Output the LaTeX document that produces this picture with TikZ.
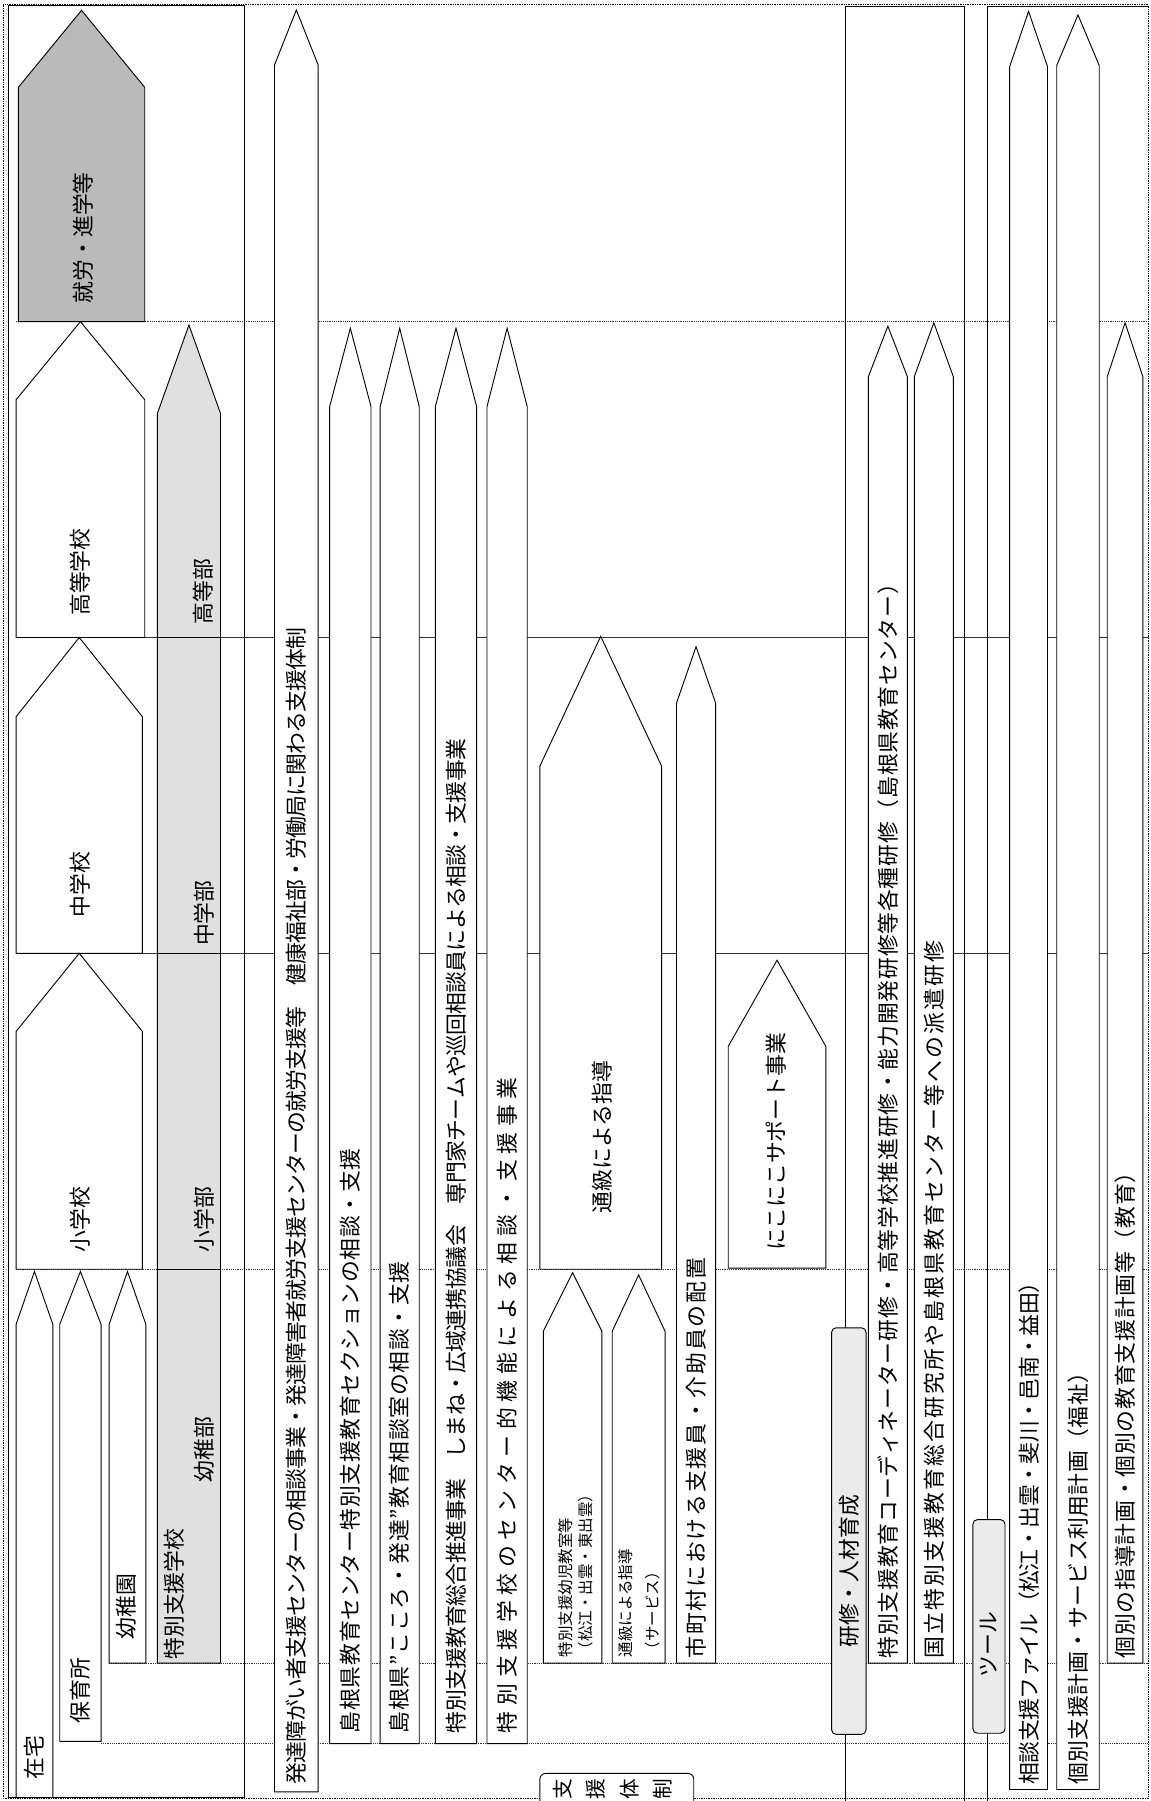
\documentclass[tikz,border=0pt]{standalone}
\usepackage{fontspec}
\setmainfont{Noto Sans CJK JP}
\newcommand\fs{\fontsize{19}{21}\selectfont}
\newcommand\fsm{\fontsize{13.5}{15}\selectfont}
\newcommand\tarrow[6][]{\draw[shp,#1] (#2,#6) -- (#2,#5) -- ({(#2+#3)/2},#4) -- (#3,#5) -- (#3,#6) -- cycle;}
\newdimen\lsk
\def\lsA#1{\ifx\relax#1\else#1\kern\lsk\expandafter\lsA\fi}
\newcommand\lsp[2]{\lsk=\dimexpr #1pt-19pt\relax\lsA#2\relax}
\begin{document}
\begin{tikzpicture}[x=1pt,y=-1pt,
 shp/.style={draw=black,line width=0.8pt,fill=white},
 stg/.style={draw=black!80,line width=0.6pt},
 vt/.style={rotate=90,inner sep=0pt,font=\fs},
 lbl/.style={rotate=90,anchor=west,inner sep=0pt,font=\fs},
 tag/.style={draw=black,line width=0.8pt,fill=black!8,rounded corners=4pt,inner sep=0pt}]
\clip (0,0) rectangle (1002,1568);
\fill[white] (0,0) rectangle (1002,1568);
% frame
\draw[densely dotted, line width=0.5pt] (3,4) rectangle (999.5,1566);
\draw[line width=0.8pt] (7,4.4) rectangle (213,1565);
% stage lines
\draw[stg, densely dotted] (14,280) -- (1000,280);
\draw[stg] (14,555) -- (1000,555);
\draw[stg] (14,830) -- (1000,830);
\draw[stg, densely dotted] (14,1105) -- (1000,1105);
\draw[stg, densely dotted] (95,1448) -- (1000,1448);
\draw[stg, densely dotted] (88,1518) -- (1000,1518);
% home column
\tarrow{14}{46}{1107}{1153}{1565}
\tarrow{52}{88}{1107}{1153}{1516}
\tarrow{95}{127}{1107}{1153}{1448}
% school stages
\tarrow[fill=black!27]{16}{126}{9}{76}{280}
\tarrow{14}{126}{280}{348}{555}
\tarrow{14}{124}{555}{624}{830}
\tarrow{14}{124}{830}{898}{1105}
% special support school column
\tarrow[fill=black!12]{137}{192}{283}{360}{1448}
\draw[line width=0.8pt] (137,555)--(192,555) (137,830)--(192,830) (137,1105)--(192,1105);
% strips
\tarrow{239}{277}{8.7}{56.6}{1560}
\tarrow{287}{323}{285.8}{354}{1518}
\tarrow{331}{365}{285.8}{354}{1518}
\tarrow{379}{415}{285.8}{354}{1518}
\tarrow{424}{459}{285.8}{354}{1518}
% lower middle
\tarrow{470}{576}{554}{667}{1105}
\tarrow{473}{524}{1108}{1159}{1448}
\tarrow{533}{579}{1110}{1159}{1448}
\tarrow{589}{623}{563}{612}{1448}
\tarrow{634}{719}{836}{911}{1104}
% training bracket
\draw[line width=0.8pt] (736,1568) -- (736,5.8) -- (840,5.8) -- (840,1568);
\tarrow{756}{790}{284}{328}{1448}
\tarrow{796}{830}{281}{328}{1448}
\node[tag, minimum width=30pt, minimum height=354pt] (ken) at (739,1333) {};
\node[vt] (kent) at (739,1368) {研修・人材育成};
% tool bracket
\draw[line width=0.8pt] (860,1568) -- (860,5.8) -- (999.5,5.8);
\tarrow{879}{912}{10}{58}{1558}
\tarrow{920}{957}{13}{57}{1558}
\tarrow{964}{995}{281}{328}{1448}
\node[tag, minimum width=28pt, minimum height=186pt] (tool) at (861,1416) {};
\node[vt] (toolt) at (861,1432) {ツール};
% support system box
\draw[line width=0.8pt, rounded corners=5pt, fill=white] (470,1590) -- (470,1544) -- (604,1544) -- (604,1590);
\node[vt, font=\fontsize{18}{18}\selectfont] (s1) at (490,1558) {支};
\node[vt, font=\fontsize{18}{18}\selectfont] (s2) at (519,1558) {援};
\node[vt, font=\fontsize{18}{18}\selectfont] (s3) at (548,1558) {体};
\node[vt, font=\fontsize{18}{18}\selectfont] (s4) at (577,1558) {制};
% strip texts
\node[lbl] (tA) at (258,1554) {\lsp{18.3}{発達障がい者支援センターの相談事業・発達障害者就労支援センターの就労支援等　健康福祉部・労働局に関わる支援体制}};
\node[lbl] (tB) at (305,1509) {\lsp{19.6}{島根県教育センター特別支援教育セクションの相談・支援}};
\node[lbl] (tC) at (348,1509) {\lsp{19.6}{島根県”こころ・発達”教育相談室の相談・支援}};
\node[lbl] (tD) at (397,1509) {\lsp{18.4}{特別支援教育総合推進事業　しまね・広域連携協議会　専門家チームや巡回相談員による相談・支援事業}};
\node[lbl] (tE) at (441.5,1509) {\lsp{24}{特別支援学校のセンター的機能による相談・支援事業}};
\node[lbl] (tF) at (606,1444) {\lsp{20.6}{市町村における支援員・介助員の配置}};
\node[lbl] (tG) at (773,1444) {\lsp{19.7}{特別支援教育コーディネーター研修・高等学校推進研修・能力開発研修等各種研修（島根県教育センター）}};
\node[lbl] (tH) at (813,1444) {\lsp{20.9}{国立特別支援教育総合研究所や島根県教育センター等への派遣研修}};
\node[lbl] (tI) at (896,1554) {\lsp{18.6}{相談支援ファイル（松江・出雲・斐川・邑南・益田）}};
\node[lbl] (tJ) at (938.5,1554) {\lsp{19.4}{個別支援計画・サービス利用計画（福祉）}};
\node[lbl] (tK) at (979.5,1444) {\lsp{19.7}{個別の指導計画・個別の教育支援計画等（教育）}};
% shape texts
\node[vt] (p1) at (72,207) {就労・進学等};
\node[vt] (p2) at (70,498) {高等学校};
\node[vt] (p3) at (70,770) {中学校};
\node[vt] (p4) at (70,1062) {小学校};
\node[vt] (g1) at (177,515) {高等部};
\node[vt] (g2) at (178,795) {中学部};
\node[vt] (g3) at (178,1062) {小学部};
\node[vt] (g4) at (178,1262) {幼稚部};
\node[lbl] (g5) at (152,1445) {特別支援学校};
\node[vt] (h1) at (30,1530) {在宅};
\node[vt] (h2) at (70,1472) {保育所};
\node[vt] (h3) at (110,1399) {幼稚園};
\node[vt] (m1) at (524,990) {通級による指導};
\node[vt] (m2) at (676,994) {にこにこサポート事業};
\node[lbl,font=\fsm] (m3) at (492,1443) {特別支援幼児教室等};
\node[lbl,font=\fsm] (m4) at (510,1443) {（松江・出雲・東出雲）};
\node[lbl,font=\fsm] (m5) at (545,1443) {通級による指導};
\node[lbl,font=\fsm] (m6) at (568,1443) {（サービス）};
\end{tikzpicture}
\end{document}
